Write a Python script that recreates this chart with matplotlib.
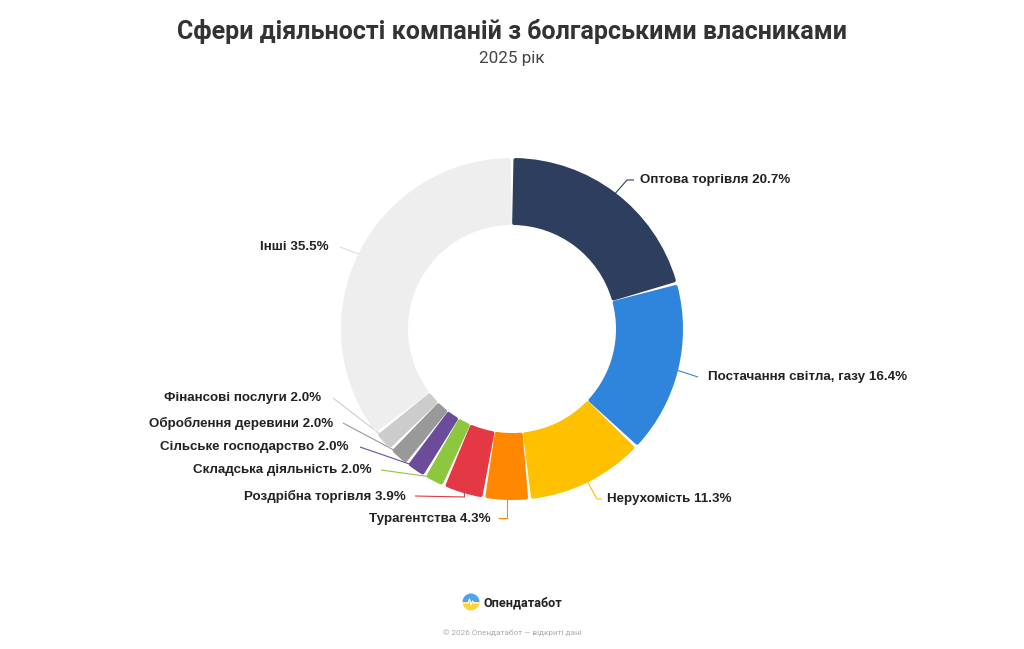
import numpy as np
import matplotlib
matplotlib.use("Agg")
import matplotlib.pyplot as plt
from matplotlib.patches import Wedge

categories = ["Оптова торгівля", "Постачання світла, газу", "Нерухомість", "Турагентства",
              "Роздрібна торгівля", "Складська діяльність", "Сільське господарство",
              "Оброблення деревини", "Фінансові послуги", "Інші"]
values = [20.7, 16.4, 11.3, 4.3, 3.9, 2.0, 2.0, 2.0, 2.0, 35.5]
colors = ["#2e3e5f", "#2f84dc", "#ffc000", "#ff8800", "#e53845", "#8dc63f",
          "#6b4c9a", "#999999", "#cccccc", "#eeeeee"]
line_colors = ["#2e3e5f", "#2f84dc", "#ffc000", "#ff8800", "#e53845", "#8dc63f",
               "#6b4c9a", "#999999", "#cccccc", "#dddddd"]

W, H = 1024, 649
def Y(y):
    return H - y

fig = plt.figure(figsize=(W / 100, H / 100), dpi=100)
ax = fig.add_axes([0, 0, 1, 1])

cx, cy = 512, 329
R_out, ring = 171, 67
wedges, _ = ax.pie(values, colors=colors, startangle=90, counterclock=False,
                   radius=R_out, center=(cx, Y(cy)),
                   wedgeprops=dict(width=ring, linewidth=0))
ax.set_xlim(0, W)
ax.set_ylim(0, H)
ax.set_aspect("equal")
ax.axis("off")

# rounded corners + gaps
s = 2.0       # corner rounding (px)
gap = 1.6     # gap between segments (px)
r_mid = R_out - ring / 2
dth = np.degrees((gap / 2 + s) / r_mid)
pt = 72 / 100
mids = []
for w, c in zip(wedges, colors):
    t1, t2 = w.theta1, w.theta2
    mids.append((t1 + t2) / 2)
    w.set_radius(R_out - s)
    w.set_width(ring - 2 * s)
    w.set_theta1(t1 + dth)
    w.set_theta2(t2 - dth)
    w.set_edgecolor(c)
    w.set_linewidth(2 * s * pt)
    w.set_joinstyle("round")
    w.set_zorder(3)

# label layout: (text x, text y, ha, [intermediate points...])
layout = [
    (640, 180, "left", [(627, 180), (634, 180)]),
    (708, 377, "left", [(698, 377)]),
    (607, 499, "left", [(597, 499), (602, 499)]),
    (491, 519, "right", [(None, 518), (498, 518)]),
    (406, 496, "right", [(None, 497), (415, 496)]),
    (372, 470, "right", [(381, 470)]),
    (349, 447, "right", [(360, 447)]),
    (333, 423, "right", [(343, 423)]),
    (321, 398, "right", [(333, 398)]),
    (329, 247, "right", [(340, 247)]),
]

lab_font = dict(family=["Liberation Sans", "DejaVu Sans"], fontsize=9.6,
                fontweight="bold", color="#222222")
for i, (cat, val) in enumerate(zip(categories, values)):
    tx, ty, ha, pts = layout[i]
    a = np.radians(mids[i])
    sx = cx + (R_out - 4) * np.cos(a)
    sy = Y(cy) + (R_out - 4) * np.sin(a)
    xs, ys = [sx], [sy]
    for px, py in pts:
        xs.append(sx if px is None else px)
        ys.append(Y(py))
    ax.plot(xs, ys, color=line_colors[i], lw=0.8, zorder=2, solid_capstyle="butt")
    ax.text(tx, Y(ty), f"{cat} {val:.1f}%", ha=ha, va="center", zorder=4, **lab_font)

# title
ax.text(512, Y(31), "Сфери діяльності компаній з болгарськими власниками",
        ha="center", va="center", fontsize=18, fontweight="bold", color="#333333",
        family=["Roboto", "DejaVu Sans"])
ax.text(512, Y(58), "2025 рік", ha="center", va="center", fontsize=12.3,
        color="#444444", family=["Roboto", "DejaVu Sans"])

# logo
lx, ly, lr = 471, 602, 8.5
ax.add_patch(Wedge((lx, Y(ly)), lr, 0, 180, facecolor="#4da3ec", edgecolor="none", zorder=5))
ax.add_patch(Wedge((lx, Y(ly)), lr, 180, 360, facecolor="#ffd23a", edgecolor="none", zorder=5))
ax.plot([lx - 8, lx - 3, lx - 1.5, lx, lx + 1.5, lx + 3, lx + 8],
        [Y(ly + 1), Y(ly + 1), Y(ly - 3), Y(ly + 3), Y(ly - 1), Y(ly + 1), Y(ly + 1)],
        color="white", lw=0.8, zorder=6)
ax.text(483, Y(603), "Опендатабот", ha="left", va="center", fontsize=9.1,
        fontweight="bold", color="#222222", family=["Roboto", "DejaVu Sans"])
ax.text(512, Y(633), "© 2026 Опендатабот — відкриті дані", ha="center", va="center",
        fontsize=5.9, color="#aaaaaa", family=["Roboto", "DejaVu Sans"])

fig.savefig("out.png", dpi=100, facecolor="white")
